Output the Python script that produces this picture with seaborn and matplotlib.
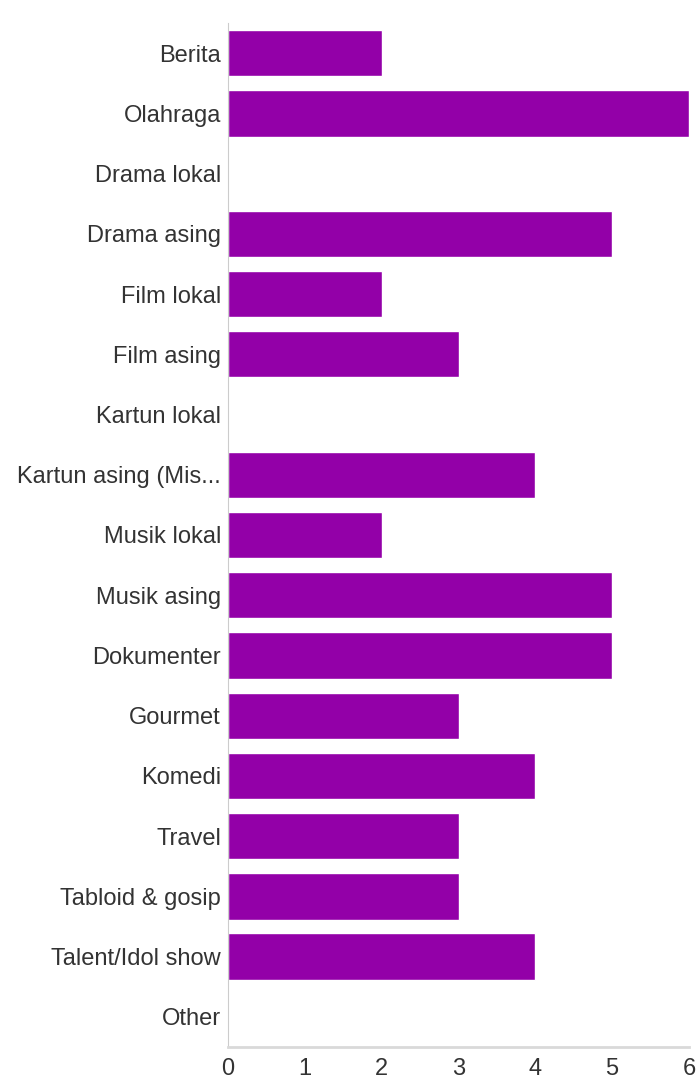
import matplotlib
matplotlib.use("Agg")
import matplotlib.pyplot as plt
import seaborn as sns
import pandas as pd

categories = [
    "Berita", "Olahraga", "Drama lokal", "Drama asing", "Film lokal",
    "Film asing", "Kartun lokal", "Kartun asing (Mis...", "Musik lokal",
    "Musik asing", "Dokumenter", "Gourmet", "Komedi", "Travel",
    "Tabloid & gosip", "Talent/Idol show", "Other",
]
counts = [2, 6, 0, 5, 2, 3, 0, 4, 2, 5, 5, 3, 4, 3, 3, 4, 0]
x_ticks = [0, 1, 2, 3, 4, 5, 6]

bar_color = "#9300a8"

sns.set_theme(style="white")
plt.rcParams["font.family"] = ["Liberation Sans", "DejaVu Sans"]

df = pd.DataFrame({"category": categories, "count": counts})

fig = plt.figure(figsize=(6.96, 10.81), dpi=100)
ax = fig.add_axes([228 / 696, 34 / 1081, 461 / 696, 1024 / 1081])

sns.barplot(data=df, x="count", y="category", orient="h", color=bar_color,
            saturation=1, width=0.77, ax=ax)

ax.set_xlim(0, 6)
ax.set_ylim(len(categories) - 0.5, -0.5)
ax.set_xticks(x_ticks)
ax.set_xticklabels([str(t) for t in x_ticks])
ax.set_xlabel("")
ax.set_ylabel("")

for side in ("top", "right"):
    ax.spines[side].set_visible(False)
ax.spines["left"].set_color("#cccccc")
ax.spines["left"].set_linewidth(0.8)
ax.spines["bottom"].set_color("#d9d9d9")
ax.spines["bottom"].set_linewidth(2.0)

ax.tick_params(axis="both", which="major", labelsize=17, colors="#444444",
               length=3, width=0.8, pad=2)
ax.tick_params(axis="x", color="#cccccc", pad=5)
ax.tick_params(axis="y", color="#cccccc")
for lbl in ax.get_yticklabels() + ax.get_xticklabels():
    lbl.set_color("#333333")

fig.savefig("out.png", dpi=100)
